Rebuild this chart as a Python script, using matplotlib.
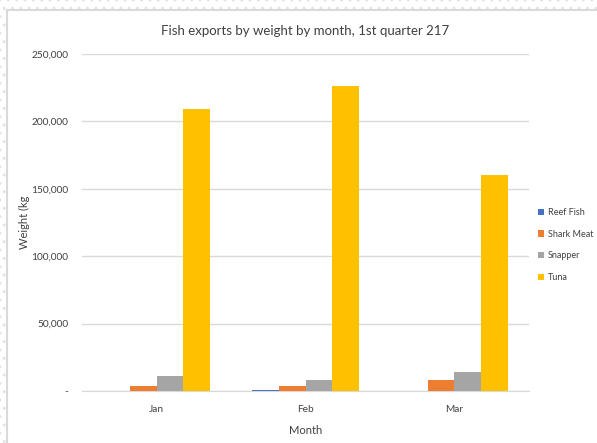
import numpy as np
import matplotlib.pyplot as plt
from matplotlib.patches import Rectangle
from matplotlib.ticker import FuncFormatter

plt.rcParams['font.family'] = ['Lato', 'DejaVu Sans']

# data
months = ['Jan', 'Feb', 'Mar']
reef_fish = [0, 500, 0]
shark_meat = [3700, 3500, 8100]
snapper = [11000, 8200, 14000]
tuna = [209500, 226500, 160500]
series_names = ['Reef Fish', 'Shark Meat', 'Snapper', 'Tuna']
colors = ['#4472C4', '#ED7D31', '#A5A5A5', '#FFC000']

W, H = 597, 443
fig = plt.figure(figsize=(W/100, H/100), dpi=100)

# dotted page background + chart area box
fig.patches.append(Rectangle((0, 0), 1, 1, transform=fig.transFigure,
                             facecolor='white', edgecolor='#e4e4e4',
                             hatch='..', linewidth=0, zorder=-10))
fig.patches.append(Rectangle((7/W, -0.05), 1.1, 1 - 10/H + 0.05,
                             transform=fig.transFigure, facecolor='white',
                             edgecolor='#d9d9d9', linewidth=1.5, zorder=-5))

ax = fig.add_axes([82/W, 1 - 391/H, (529 - 82)/W, (391 - 54)/H])
ax.set_facecolor('none')

x = np.arange(len(months))
bw = 0.18
all_series = [reef_fish, shark_meat, snapper, tuna]
for i, (vals, name, c) in enumerate(zip(all_series, series_names, colors)):
    ax.bar(x + (i - 1.5)*bw, vals, bw, color=c, label=name, zorder=3)

ax.set_xlim(-0.5, 2.5)
ax.set_ylim(0, 250000)
ax.set_yticks(np.arange(0, 250001, 50000))
ax.yaxis.set_major_formatter(FuncFormatter(lambda v, p: '-' if v == 0 else '{:,.0f}'.format(v)))
ax.set_xticks(x)
ax.set_xticklabels(months)
ax.grid(axis='y', color='#d9d9d9', linewidth=1, zorder=0)
for s in ['top', 'right', 'left']:
    ax.spines[s].set_visible(False)
ax.spines['bottom'].set_color('#d9d9d9')
ax.tick_params(length=0, labelsize=7.3, colors='#404040', pad=10)
ax.tick_params(axis='y', pad=10)

ax.set_title('Fish exports by weight by month, 1st quarter 217', fontsize=9.5,
             color='#404040', pad=14)
ax.set_xlabel('Month', fontsize=8, color='#404040', labelpad=8)
ax.set_ylabel('Weight (kg', fontsize=8, color='#404040')
ax.yaxis.set_label_coords(-52/447, 0.5)

leg = ax.legend(loc='center left', bbox_to_anchor=(534/W, 1 - 245/H),
                bbox_transform=fig.transFigure, frameon=False, fontsize=6.5,
                handlelength=0.7, handleheight=0.7, handletextpad=0.4,
                labelspacing=1.4, borderaxespad=0)
for t in leg.get_texts():
    t.set_color('#404040')

plt.savefig('out.png', dpi=100)
